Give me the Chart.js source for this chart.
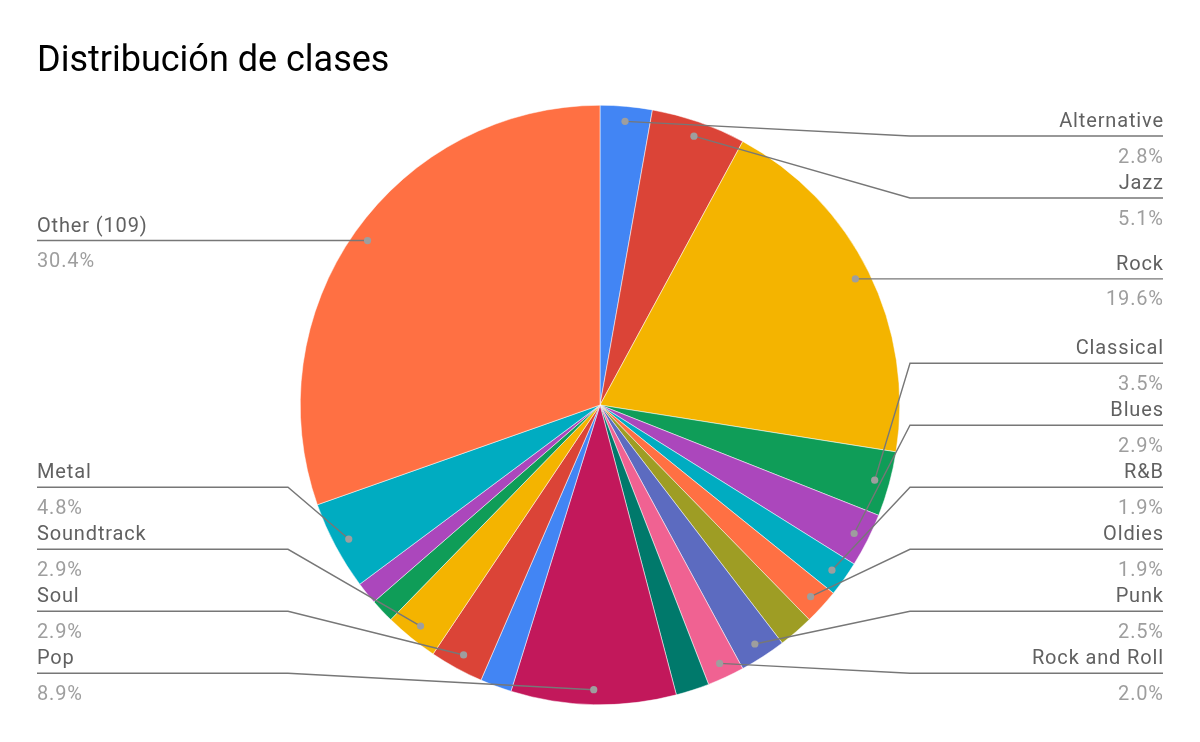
<!DOCTYPE html>
<html>
<head>
<meta charset="utf-8">
<script src="https://cdn.jsdelivr.net/npm/chart.js@4/dist/chart.umd.min.js"></script>
<style>
  html, body { margin: 0; padding: 0; background: #fff; }
  #wrap { width: 1200px; height: 742px; position: relative; }
</style>
</head>
<body>
<div id="wrap"><canvas id="c" width="1200" height="742"></canvas></div>
<script>
// Data (percent of total), clockwise from 12 o'clock
const categories = ['Alternative', 'Jazz', 'Rock', 'Classical', 'Blues', 'R&B', 'Oldies', '', 'Punk', 'Rock and Roll', '', 'Pop', '', 'Soul', 'Soundtrack', '', '', 'Metal', 'Other (109)'];
const shares = [2.8, 5.1, 19.6, 3.5, 2.9, 1.9, 1.9, 1.9, 2.5, 2.0, 1.8, 8.9, 1.7, 2.9, 2.9, 1.3, 1.2, 4.8, 30.4];
const palette = ['#4285F4', '#DB4437', '#F4B400', '#0F9D58', '#AB47BC', '#00ACC1', '#FF7043', '#9E9D24', '#5C6BC0', '#F06292', '#00796B', '#C2185B'];
const titleText = 'Distribución de clases';

const sliceColors = shares.map((_, i) => i === shares.length - 1 ? '#FF7043' : palette[i % palette.length]);

const FONT = 'Roboto, "Noto Sans", sans-serif';

const calloutPlugin = {
  id: 'callouts',
  afterDraw(chart) {
    const ctx = chart.ctx;
    const meta = chart.getDatasetMeta(0);
    const total = shares.reduce((a, b) => a + b, 0);
    const cx = chart.chartArea.left + chart.chartArea.width / 2;
    const items = [];
    meta.data.forEach((arc, i) => {
      if (!categories[i]) return;
      const p = arc.getProps(['x', 'y', 'startAngle', 'endAngle', 'outerRadius'], true);
      const mid = (p.startAngle + p.endAngle) / 2;
      const r = p.outerRadius * 0.95;
      items.push({ i, dx: p.x + Math.cos(mid) * r, dy: p.y + Math.sin(mid) * r,
        name: categories[i], pct: (shares[i] / total * 100).toFixed(1) + '%' });
    });
    const minY = 136, maxY = 673.3, gap = 62;
    const LS = 0.85;
    ['right', 'left'].forEach(side => {
      const isRight = side === 'right';
      const group = items.filter(it => isRight ? it.dx >= cx : it.dx < cx).sort((a, b) => a.dy - b.dy);
      group.forEach(it => { it.ly = Math.min(maxY, Math.max(minY, it.dy)); });
      for (let k = 1; k < group.length; k++) group[k].ly = Math.max(group[k].ly, group[k - 1].ly + gap);
      if (group.length) group[group.length - 1].ly = Math.min(group[group.length - 1].ly, maxY);
      for (let k = group.length - 2; k >= 0; k--) group[k].ly = Math.min(group[k].ly, group[k + 1].ly - gap);
      const kinkX = isRight ? 910 : 288;
      const endX = isRight ? 1163 : 37;
      group.forEach(it => {
        ctx.save();
        ctx.strokeStyle = '#777777';
        ctx.lineWidth = 1.4;
        ctx.beginPath();
        ctx.moveTo(it.dx, it.dy);
        ctx.lineTo(kinkX, it.ly);
        ctx.lineTo(endX, it.ly);
        ctx.stroke();
        ctx.fillStyle = '#9e9e9e';
        ctx.beginPath();
        ctx.arc(it.dx, it.dy, 3.6, 0, Math.PI * 2);
        ctx.fill();
        ctx.font = '20px ' + FONT;
        try { ctx.letterSpacing = LS + 'px'; } catch (e) {}
        ctx.textAlign = isRight ? 'right' : 'left';
        ctx.textBaseline = 'alphabetic';
        const tx = isRight ? endX + LS : endX;
        ctx.fillStyle = '#616161';
        ctx.fillText(it.name, tx, it.ly - 9);
        ctx.fillStyle = '#9e9e9e';
        ctx.fillText(it.pct, tx, it.ly + 26.5);
        ctx.restore();
      });
    });
    // Title
    ctx.save();
    ctx.font = '36px ' + FONT;
    ctx.fillStyle = '#000000';
    ctx.textAlign = 'left';
    ctx.textBaseline = 'alphabetic';
    ctx.fillText(titleText, 37, 71);
    ctx.restore();
  }
};

new Chart(document.getElementById('c'), {
  type: 'pie',
  data: {
    labels: categories,
    datasets: [{
      data: shares,
      backgroundColor: sliceColors,
      borderColor: '#ffffff',
      borderWidth: 0.5
    }]
  },
  options: {
    responsive: false,
    animation: false,
    layout: { padding: { top: 105, bottom: 37, left: 0, right: 0 } },
    plugins: {
      legend: { display: false },
      title: { display: false },
      tooltip: { enabled: false }
    }
  },
  plugins: [calloutPlugin]
});
</script>
</body>
</html>
